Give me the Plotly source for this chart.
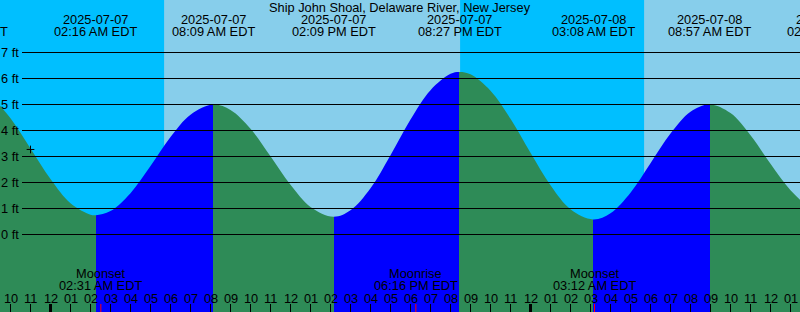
import plotly.graph_objects as go

# ---------------- data (hours after 2025-07-07 00:00 EDT) ----------------
tide_times = [-3, -2, -1, 0, 1, 2, 2.267, 3, 4, 5, 6, 7, 8.15, 9, 10, 11, 12, 13, 14.15,
              15, 16, 17, 18, 19, 20, 20.45, 21, 22, 23, 24, 25, 26, 27.133,
              28, 29, 30, 31, 32, 32.95, 34, 35, 36, 37, 38]
tide_heights = [5.35, 4.47, 3.31, 2.13, 1.20, 0.76, 0.74, 0.90, 1.59, 2.63, 3.75, 4.61, 5.00, 4.79, 4.07, 3.01, 1.91, 1.06, 0.68,
                0.93, 1.78, 3.05, 4.42, 5.55, 6.18, 6.25, 6.16, 5.53, 4.45, 3.14, 1.89, 0.97, 0.58,
                0.82, 1.61, 2.74, 3.88, 4.72, 5.00, 4.67, 3.82, 2.72, 1.70, 0.99]

extreme_times = [-4.25, 2.267, 8.15, 14.15, 20.45, 27.133, 32.95, 38.9]
extreme_kinds = ["high", "low", "high", "low", "high", "low", "high", "low"]
extreme_dates = ["2025-07-06", "2025-07-07", "2025-07-07", "2025-07-07",
                 "2025-07-07", "2025-07-08", "2025-07-08", "2025-07-08"]
extreme_clock = ["07:45 PM EDT", "02:16 AM EDT", "08:09 AM EDT", "02:09 PM EDT",
                 "08:27 PM EDT", "03:08 AM EDT", "08:57 AM EDT", "02:54 PM EDT"]

moon_times = [2.517, 18.267, 27.2]
moon_names = ["Moonset", "Moonrise", "Moonset"]
moon_clock = ["02:31 AM EDT", "06:16 PM EDT", "03:12 AM EDT"]

sunrise_times = [5.68, 29.68]
sunset_times = [20.48, 40.0]

now_time = -1.0
now_height = 3.27

ft_levels = [0, 1, 2, 3, 4, 5, 6, 7]
ft_labels = ["0 ft", "1 ft", "2 ft", "3 ft", "4 ft", "5 ft", "6 ft", "7 ft"]

hour_ticks = list(range(-2, 38))
hour_labels = ["10", "11", "12",
               "01", "02", "03", "04", "05", "06", "07", "08", "09", "10", "11", "12",
               "01", "02", "03", "04", "05", "06", "07", "08", "09", "10", "11", "12",
               "01", "02", "03", "04", "05", "06", "07", "08", "09", "10", "11", "12",
               "01"]
midnights = [0, 24]

title = "Ship John Shoal, Delaware River, New Jersey"

# ---------------- styling ----------------
W, H = 800, 312
X0, X1 = -2.525, 37.475
Y0, Y1 = (234.5 - 312) / 26, 234.5 / 26
NIGHT, DAY = "#00BFFF", "#87CEEB"
FALL, RISE = "#2E8B57", "#0000FF"
FONT = "Liberation Sans, Arial, sans-serif"
FS = 12.8


def py(ypx):
    return 1 - ypx / H


def xpos(t):
    if X0 <= t <= X1:
        return t, "x"
    return (t - X0) / (X1 - X0), "paper"


# gradient colour stops: blue while rising, green while falling
g0, g1 = tide_times[0], tide_times[-1]
cs = []
for i in range(len(extreme_times) - 1):
    a, b = extreme_times[i], extreme_times[i + 1]
    col = RISE if extreme_kinds[i] == "low" else FALL
    a, b = max(a, g0), min(b, g1)
    if b <= a:
        continue
    cs.append([(a - g0) / (g1 - g0), col])
    cs.append([(b - g0) / (g1 - g0), col])
cs[0][0] = 0.0
cs[-1][0] = 1.0

fig = go.Figure()
fig.add_trace(go.Scatter(x=[g0, g1], y=[Y0 - 1, Y0 - 1], mode="lines",
                         line=dict(width=0), hoverinfo="skip", showlegend=False))
fig.add_trace(go.Scatter(x=tide_times, y=tide_heights, mode="lines",
                         line=dict(width=0, shape="spline", smoothing=1.0),
                         fill="tonexty",
                         fillgradient=dict(type="horizontal", start=g0, stop=g1, colorscale=cs),
                         hoverinfo="skip", showlegend=False))
fig.add_trace(go.Scatter(x=[now_time], y=[now_height], mode="markers",
                         marker=dict(symbol="cross-thin", size=5.5, color="black",
                                     line=dict(width=1, color="black")),
                         hoverinfo="skip", showlegend=False))

shapes = []
for sr, ss in zip(sunrise_times, sunset_times):
    shapes.append(dict(type="rect", xref="x", yref="paper", x0=sr, x1=ss, y0=0, y1=1,
                       fillcolor=DAY, line=dict(width=0), layer="below"))
for lv in ft_levels:
    shapes.append(dict(type="line", xref="paper", yref="y", x0=22 / W, x1=1, y0=lv, y1=lv,
                       line=dict(color="black", width=1)))
for t in hour_ticks:
    shapes.append(dict(type="line", xref="x", yref="paper", x0=t, x1=t, y0=0, y1=8 / H,
                       line=dict(color="black", width=3 if t in midnights else 1)))
for t in moon_times:
    shapes.append(dict(type="line", xref="x", yref="paper", x0=t, x1=t, y0=0, y1=8 / H,
                       line=dict(color="red", width=1)))

ann = []
font = dict(family=FONT, size=FS, color="black")


def label(x, xref, ypx, text, xanchor="center"):
    ann.append(dict(x=x, xref=xref, y=py(ypx), yref="paper", text=text, showarrow=False,
                    xanchor=xanchor, yanchor="middle", font=font))


label(0.5, "paper", 7.5, title)
for t, d, c in zip(extreme_times, extreme_dates, extreme_clock):
    x, ref = xpos(t)
    label(x, ref, 19.5, d)
    label(x, ref, 31.5, c)
for t, n, c in zip(moon_times, moon_names, moon_clock):
    label(t, "x", 273.5, n)
    label(t, "x", 285.5, c)
for t, lab in zip(hour_ticks, hour_labels):
    label(t, "x", 298, lab)
for lv, lab in zip(ft_levels, ft_labels):
    ann.append(dict(x=20.5 / W, xref="paper", y=lv, yref="y", text=lab, showarrow=False,
                    xanchor="right", yanchor="middle", font=font))

fig.update_layout(
    width=W, height=H, margin=dict(l=0, r=0, t=0, b=0),
    plot_bgcolor=NIGHT, paper_bgcolor=NIGHT,
    xaxis=dict(range=[X0, X1], visible=False, fixedrange=True),
    yaxis=dict(range=[Y0, Y1], visible=False, fixedrange=True),
    shapes=shapes, annotations=ann, showlegend=False,
)
fig.write_html("out.html", config={"displayModeBar": False})
